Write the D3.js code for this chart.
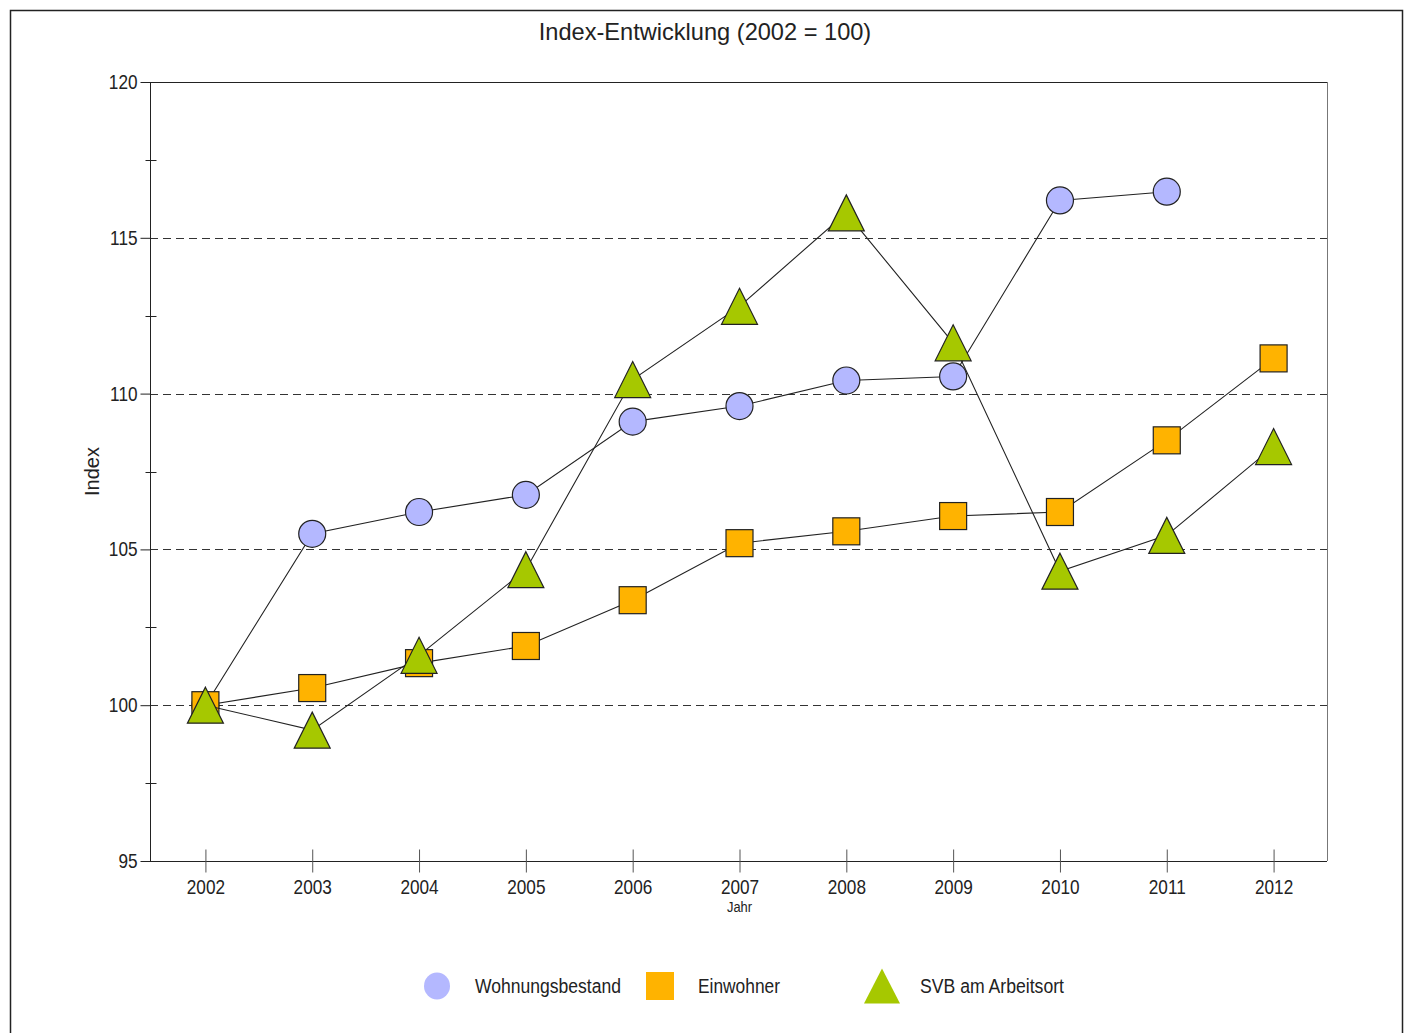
<!DOCTYPE html>
<html>
<head>
<meta charset="utf-8">
<script src="https://cdn.jsdelivr.net/npm/d3@7"></script>
<style>
  body { margin: 0; background: #fff; }
  svg text { font-family: "Liberation Sans Narrow", "Arial Narrow", "Liberation Sans", Arial, sans-serif; fill: #222; }
</style>
</head>
<body>
<div id="chart"></div>
<script>
var years = ['2002', '2003', '2004', '2005', '2006', '2007', '2008', '2009', '2010', '2011', '2012'];
var wohnungsbestand = [100, 105.5, 106.2, 106.75, 109.1, 109.6, 110.42, 110.55, 116.2, 116.48, null];
var einwohner = [100, 100.55, 101.35, 101.9, 103.37, 105.2, 105.58, 106.07, 106.2, 108.5, 111.13];
var svb = [100, 99.2, 101.6, 104.35, 110.45, 112.8, 115.8, 111.63, 104.3, 105.45, 108.3];
var yTicks = [95, 100, 105, 110, 115, 120];
var yMinor = [97.5, 102.5, 107.5, 112.5, 117.5];
var gridValues = [100, 105, 110, 115];

var width = 1406, height = 1033;
var margin = { top: 82, right: 79, bottom: 172, left: 152 };
var narrow = 0.86;

var svg = d3.select('#chart').append('svg')
  .attr('width', width).attr('height', height);

// outer frame
svg.append('rect').attr('x', 10.5).attr('y', 10.5).attr('width', 1392).attr('height', 1040)
  .attr('fill', 'none').attr('stroke', '#222').attr('stroke-width', 1.5);

var x = d3.scalePoint().domain(years).range([margin.left, width - margin.right]).padding(0.5);
var y = d3.scaleLinear().domain([95, 120]).range([height - margin.bottom, margin.top]);

var x0 = 150, x1 = width - margin.right;
var y0 = height - margin.bottom, y1 = margin.top;

svg.append('text')
  .attr('x', 705).attr('y', 40)
  .attr('text-anchor', 'middle').attr('font-size', 23.6)
  .style('font-family', '"Liberation Sans", Arial, sans-serif')
  .text('Index-Entwicklung (2002 = 100)');

// grid
svg.append('g').selectAll('line').data(gridValues).enter().append('line')
  .attr('x1', x0).attr('x2', x1)
  .attr('y1', function(d) { return Math.round(y(d)) + 0.5; })
  .attr('y2', function(d) { return Math.round(y(d)) + 0.5; })
  .attr('stroke', '#333').attr('stroke-dasharray', '8,5');

// plot frame
svg.append('line').attr('x1', x0).attr('x2', x1).attr('y1', y1 + 0.5).attr('y2', y1 + 0.5).attr('stroke', '#222');
svg.append('line').attr('x1', x1 + 0.5).attr('x2', x1 + 0.5).attr('y1', y1).attr('y2', y0).attr('stroke', '#777');

// y axis
var yAxis = svg.append('g').attr('transform', 'translate(' + (x0 + 0.5) + ',0)')
  .call(d3.axisLeft(y).tickValues(yTicks).tickSize(10).tickPadding(3).tickFormat(d3.format('d')));
yAxis.select('.domain').attr('stroke', '#222').attr('d', 'M0,' + y1 + 'V' + y0);
yAxis.selectAll('.tick line').attr('stroke', '#222');
yAxis.selectAll('.tick text').attr('font-size', 20).attr('fill', '#222')
  .attr('x', -13 / narrow).attr('transform', 'scale(' + narrow + ',1)');
yAxis.selectAll('.minor').data(yMinor).enter().append('line')
  .attr('x1', -5).attr('x2', 6)
  .attr('y1', function(d) { return Math.round(y(d)) + 0.5; })
  .attr('y2', function(d) { return Math.round(y(d)) + 0.5; })
  .attr('stroke', '#222');

// x axis
var xAxis = svg.append('g').attr('transform', 'translate(0,' + (y0 + 0.5) + ')')
  .call(d3.axisBottom(x).tickSize(10).tickPadding(8));
xAxis.select('.domain').attr('stroke', '#222').attr('d', 'M' + x0 + ',0H' + x1);
xAxis.selectAll('.tick line').attr('stroke', '#555').attr('y1', -12).attr('y2', 11);
xAxis.selectAll('.tick text').attr('font-size', 20).attr('fill', '#222')
  .attr('transform', 'scale(' + narrow + ',1)');

svg.append('text').attr('x', x('2007') / narrow).attr('y', 912).attr('text-anchor', 'middle')
  .attr('transform', 'scale(' + narrow + ',1)')
  .attr('font-size', 15).text('Jahr');

svg.append('text')
  .attr('transform', 'translate(99,' + ((y0 + y1) / 2) + ') rotate(-90)')
  .attr('text-anchor', 'middle').attr('font-size', 20)
  .style('font-family', '"Liberation Sans", Arial, sans-serif')
  .text('Index');

function triPath(cx, cy, w, h) {
  return 'M' + cx + ',' + (cy - h / 2) + 'L' + (cx + w / 2) + ',' + (cy + h / 2) + 'L' + (cx - w / 2) + ',' + (cy + h / 2) + 'Z';
}

var series = [
  { name: 'Wohnungsbestand', values: wohnungsbestand, color: '#b4b8ff', shape: 'circle', textLen: 146 },
  { name: 'Einwohner', values: einwohner, color: '#ffb300', shape: 'square', textLen: 82 },
  { name: 'SVB am Arbeitsort', values: svb, color: '#a6c800', shape: 'triangle', textLen: 144 }
];

var line = d3.line()
  .defined(function(d) { return d.v != null; })
  .x(function(d) { return x(d.year); })
  .y(function(d) { return y(d.v); });

series.forEach(function(s) {
  var pts = years.map(function(yr, i) { return { year: yr, v: s.values[i] }; });
  var g = svg.append('g');
  g.append('path').datum(pts).attr('d', line)
    .attr('fill', 'none').attr('stroke', '#222').attr('stroke-width', 1.1);
  var valid = pts.filter(function(d) { return d.v != null; });
  if (s.shape === 'circle') {
    g.selectAll('circle').data(valid).enter().append('circle')
      .attr('cx', function(d) { return x(d.year); })
      .attr('cy', function(d) { return y(d.v); })
      .attr('r', 13.5)
      .attr('fill', s.color).attr('stroke', '#222').attr('stroke-width', 1.2);
  } else if (s.shape === 'square') {
    g.selectAll('rect').data(valid).enter().append('rect')
      .attr('x', function(d) { return x(d.year) - 13.5; })
      .attr('y', function(d) { return y(d.v) - 13.5; })
      .attr('width', 27).attr('height', 27)
      .attr('fill', s.color).attr('stroke', '#222').attr('stroke-width', 1.2);
  } else {
    g.selectAll('path.m').data(valid).enter().append('path').attr('class', 'm')
      .attr('d', function(d) { return triPath(x(d.year), y(d.v), 36, 36); })
      .attr('fill', s.color).attr('stroke', '#222').attr('stroke-width', 1.2);
  }
});

// legend
var legendX = [437, 660, 882];
var legendTextX = [475, 698, 920];
var ly = 986;
var legend = svg.append('g');
series.forEach(function(s, i) {
  if (s.shape === 'circle') {
    legend.append('ellipse').attr('cx', legendX[i]).attr('cy', ly).attr('rx', 13).attr('ry', 13.5).attr('fill', s.color);
  } else if (s.shape === 'square') {
    legend.append('rect').attr('x', legendX[i] - 14).attr('y', ly - 14).attr('width', 28).attr('height', 28).attr('fill', s.color);
  } else {
    legend.append('path').attr('d', triPath(legendX[i], ly, 36, 35)).attr('fill', s.color);
  }
  legend.append('text').attr('x', legendTextX[i]).attr('y', ly + 7)
    .attr('font-size', 20).attr('textLength', s.textLen).attr('lengthAdjust', 'spacingAndGlyphs')
    .text(s.name);
});
</script>
</body>
</html>
